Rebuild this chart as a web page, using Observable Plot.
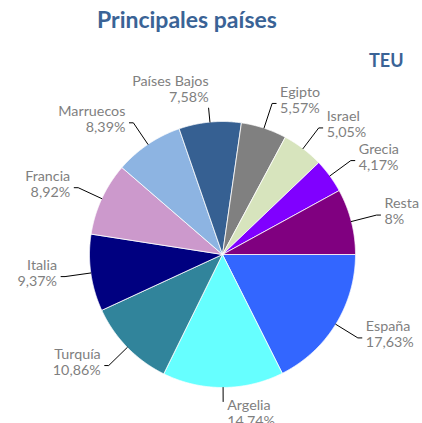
<!DOCTYPE html>
<html>
<head>
<meta charset="utf-8">
<script src="https://cdn.jsdelivr.net/npm/d3@7"></script>
<script src="https://cdn.jsdelivr.net/npm/@observablehq/plot@0.6"></script>
<style>
  html, body { margin: 0; padding: 0; background: #fff; }
  #wrap { position: relative; width: 422px; height: 423px; overflow: hidden; }
  #title { position: absolute; left: 97px; top: 5px; font: bold 23px Lato, sans-serif; color: #3A6396; white-space: nowrap; }
  #unit { position: absolute; left: 369px; top: 49px; font: bold 18px Lato, sans-serif; color: #3A6396; }
  #chart { position: absolute; left: 0; top: 0; }
</style>
</head>
<body>
<div id="wrap">
  <div id="chart"></div>
  <div id="title">Principales países</div>
  <div id="unit">TEU</div>
</div>
<script>
const countries = ["España","Argelia","Turquía","Italia","Francia","Marruecos","Países Bajos","Egipto","Israel","Grecia","Resta"];
const shares = [17.63,14.74,10.86,9.37,8.92,8.39,7.58,5.57,5.05,4.17,8];
const shareLabels = ["17,63%","14,74%","10,86%","9,37%","8,92%","8,39%","7,58%","5,57%","5,05%","4,17%","8%"];
const colors = ["#3366FF","#66FFFF","#31849B","#000080","#CC99CC","#8DB4E2","#366092","#808080","#D7E4BD","#8000FF","#800080"];

const W = 422, H = 423, CX = 222, CY = 254, R = 133;
const table = countries.map((name, i) => ({name, value: shares[i], label: shareLabels[i], color: colors[i]}));
const arcs = d3.pie().sort(null).value(d => d.value).startAngle(Math.PI / 2).endAngle(Math.PI / 2 + 2 * Math.PI)(table);

// slice polygons in unit-radius coordinates (y up)
const slicePts = [];
for (const a of arcs) {
  const n = Math.max(2, Math.ceil((a.endAngle - a.startAngle) / 0.005));
  slicePts.push({name: a.data.name, color: a.data.color, x: 0, y: 0});
  for (let k = 0; k <= n; k++) {
    const t = a.startAngle + (a.endAngle - a.startAngle) * k / n;
    slicePts.push({name: a.data.name, color: a.data.color, x: Math.sin(t), y: Math.cos(t)});
  }
  slicePts.push({name: a.data.name, color: a.data.color, x: 0, y: 0});
}

// leader lines and label anchors
const leaderPts = [];
const labels = [];
for (const a of arcs) {
  const m = (a.startAngle + a.endAngle) / 2;
  const sx = Math.sin(m), sy = Math.cos(m);
  const vertical = Math.abs(sx) < 0.15;
  const r2 = vertical ? 147 / R : 159 / R;
  const e = {x: sx, y: sy};
  const p = {x: sx * r2, y: sy * r2};
  const pts = [e, p];
  let side;
  if (vertical) {
    side = sy < 0 ? "bottom" : "top";
  } else {
    side = sx > 0 ? "right" : "left";
    pts.push({x: p.x + (sx > 0 ? 4 : -4) / R, y: p.y});
  }
  pts.forEach(q => leaderPts.push({name: a.data.name, ...q}));
  const end = pts[pts.length - 1];
  labels.push({name: a.data.name, text: a.data.name + "\n" + a.data.label, x: end.x, y: end.y, side});
}

const grey = "#7F7F7F";
const common = {fontSize: 14.3, fill: grey, lineHeight: 1.13, fontFamily: "Lato"};

const plot = Plot.plot({
  width: W, height: H,
  margin: 0,
  x: {domain: [-CX / R, (W - CX) / R], range: [0, W], axis: null},
  y: {domain: [-(H - CY) / R, CY / R], range: [H, 0], axis: null},
  color: {type: "identity"},
  style: {fontFamily: "Lato", background: "white"},
  marks: [
    Plot.line(slicePts, {x: "x", y: "y", z: "name", fill: "color", stroke: "white", strokeWidth: 0.8, strokeLinejoin: "round"}),
    Plot.line(leaderPts, {x: "x", y: "y", z: "name", stroke: "black", strokeWidth: 1}),
    Plot.text(labels.filter(d => d.side === "right"), {x: "x", y: "y", text: "text", textAnchor: "start", dx: 4, dy: -4, lineAnchor: "middle", ...common}),
    Plot.text(labels.filter(d => d.side === "left"), {x: "x", y: "y", text: "text", textAnchor: "end", dx: -4, dy: -4, lineAnchor: "middle", ...common}),
    Plot.text(labels.filter(d => d.side === "top"), {x: "x", y: "y", text: "text", textAnchor: "end", dx: 0, dy: -6, lineAnchor: "bottom", ...common}),
    Plot.text(labels.filter(d => d.side === "bottom"), {x: "x", y: "y", text: "text", textAnchor: "start", dx: 4, dy: -3, lineAnchor: "top", ...common})
  ]
});
document.getElementById("chart").appendChild(plot);
</script>
</body>
</html>
